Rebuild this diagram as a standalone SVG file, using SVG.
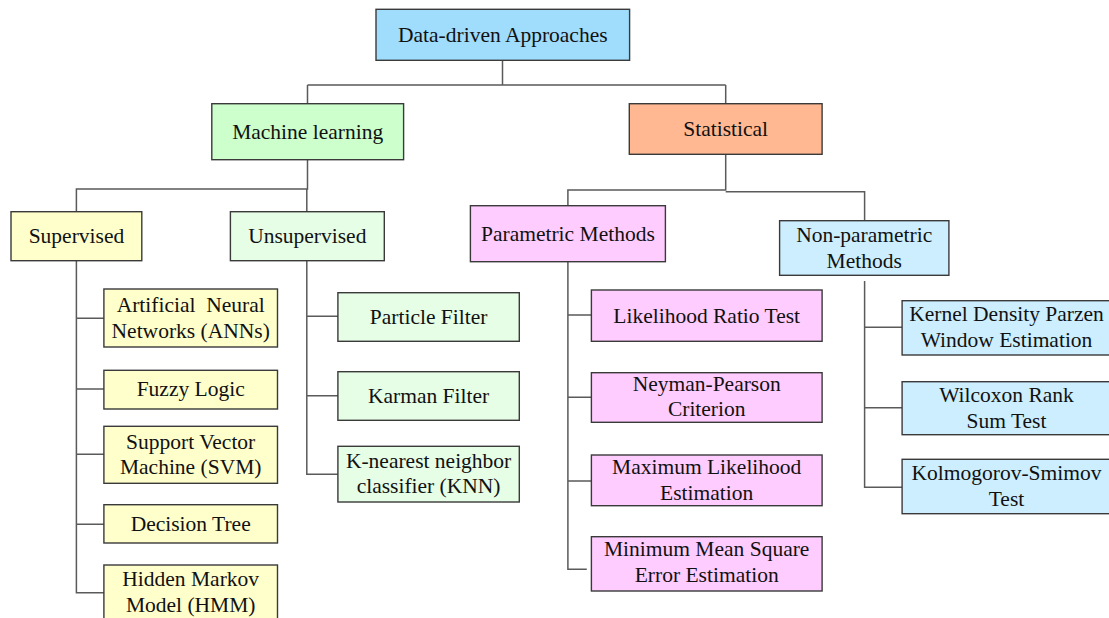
<svg xmlns="http://www.w3.org/2000/svg" width="1109" height="618" viewBox="0 0 1109 618">
<style>
text{font-family:"Liberation Serif","Times New Roman",serif;font-size:21.5px;fill:#111;text-anchor:middle}
.box rect{stroke:#3a3a3a;stroke-width:1.4}
.root{fill:#a0dcfc}.ml{fill:#ccffcc}.st{fill:#ffb892}.sup{fill:#ffffcc}.uns{fill:#e6fde6}.par{fill:#ffccff}.np{fill:#cceeff}
#connectors path{fill:none;stroke:#5a5a5a;stroke-width:1.5}
</style>
<rect width="1109" height="618" fill="#fff"/>
<g id="connectors">
<path d="M502.5 60V85M307.5 85H725.7M307.5 85V104M725.7 85V104"/>
<path d="M307.5 160V189H76.4V212M306.8 189V212"/>
<path d="M725.7 154V190H567.9V206M725.7 191.7H864.6V221"/>
<path d="M76.4 261V592.7H104M76.4 318.3H104M76.4 389H104M76.4 454.3H104M76.4 524.3H104"/>
<path d="M306.8 261V474.3H338M306.8 316.3H338M306.8 395.7H338"/>
<path d="M567.9 262V569.3H586.8M567.9 315H591.4M567.9 397.3H591.4M567.9 481H591.4"/>
<path d="M864.6 281V487.3H902M864.6 327.3H902M864.6 407.7H902"/>
</g>
<g id="root" class="box"><rect class="root" x="376" y="9.3" width="253.6" height="51"/><text x="502.8" y="42">Data-driven Approaches</text></g>
<g id="ml" class="box"><rect class="ml" x="211.8" y="103.7" width="191.8" height="56"/><text x="307.7" y="139">Machine learning</text></g>
<g id="statistical" class="box"><rect class="st" x="629.3" y="103.7" width="192.8" height="50.6"/><text x="725.7" y="136">Statistical</text></g>
<g id="supervised" class="box"><rect class="sup" x="11" y="211.7" width="130.8" height="49"/><text x="76.4" y="243">Supervised</text></g>
<g id="unsupervised" class="box"><rect class="uns" x="230.4" y="211.7" width="153.9" height="49"/><text x="307.3" y="243">Unsupervised</text></g>
<g id="parametric" class="box"><rect class="par" x="470.4" y="205.7" width="195" height="56"/><text x="567.9" y="241">Parametric Methods</text></g>
<g id="nonparametric" class="box"><rect class="np" x="779.6" y="220.7" width="169.3" height="54.6"/><text x="864.2" y="242">Non-parametric</text><text x="864.2" y="268">Methods</text></g>
<g id="ann" class="box"><rect class="sup" x="103.9" y="289" width="173.6" height="58"/><text x="190.7" y="312" style="white-space:pre" xml:space="preserve">Artificial  Neural</text><text x="190.7" y="337.5">Networks (ANNs)</text></g>
<g id="fuzzy" class="box"><rect class="sup" x="103.9" y="370.3" width="173.6" height="38.7"/><text x="190.7" y="396">Fuzzy Logic</text></g>
<g id="svm" class="box"><rect class="sup" x="103.9" y="426.3" width="173.6" height="57"/><text x="190.7" y="449">Support Vector</text><text x="190.7" y="474">Machine (SVM)</text></g>
<g id="dt" class="box"><rect class="sup" x="103.9" y="504.7" width="173.6" height="38.3"/><text x="190.7" y="531">Decision Tree</text></g>
<g id="hmm" class="box"><rect class="sup" x="103.9" y="565" width="173.6" height="60"/><text x="190.7" y="586">Hidden Markov</text><text x="190.7" y="611.5">Model (HMM)</text></g>
<g id="particle" class="box"><rect class="uns" x="337.9" y="292.7" width="181.4" height="48.6"/><text x="428.6" y="324">Particle Filter</text></g>
<g id="karman" class="box"><rect class="uns" x="337.9" y="371.7" width="181.4" height="48.6"/><text x="428.6" y="403">Karman Filter</text></g>
<g id="knn" class="box"><rect class="uns" x="337.9" y="446.3" width="181.4" height="55.7"/><text x="428.6" y="468">K-nearest neighbor</text><text x="428.6" y="493">classifier (KNN)</text></g>
<g id="lrt" class="box"><rect class="par" x="591.4" y="290" width="230.7" height="51.3"/><text x="706.7" y="322.7">Likelihood Ratio Test</text></g>
<g id="npc" class="box"><rect class="par" x="591.4" y="372.7" width="230.7" height="49.6"/><text x="706.7" y="391">Neyman-Pearson</text><text x="706.7" y="416">Criterion</text></g>
<g id="mle" class="box"><rect class="par" x="591.4" y="455" width="230.7" height="50.7"/><text x="706.7" y="474">Maximum Likelihood</text><text x="706.7" y="499.5">Estimation</text></g>
<g id="mmse" class="box"><rect class="par" x="591.4" y="536.7" width="230.7" height="54.3"/><text x="706.7" y="556">Minimum Mean Square</text><text x="706.7" y="582">Error Estimation</text></g>
<g id="kde" class="box"><rect class="np" x="902.1" y="300.7" width="209" height="54.3"/><text x="1006.5" y="321">Kernel Density Parzen</text><text x="1006.5" y="347">Window Estimation</text></g>
<g id="wilcoxon" class="box"><rect class="np" x="902.1" y="381.7" width="209" height="53"/><text x="1006.5" y="402">Wilcoxon Rank</text><text x="1006.5" y="428">Sum Test</text></g>
<g id="ks" class="box"><rect class="np" x="902.1" y="459.3" width="209" height="54.4"/><text x="1006.5" y="480">Kolmogorov-Smimov</text><text x="1006.5" y="506">Test</text></g>
</svg>
